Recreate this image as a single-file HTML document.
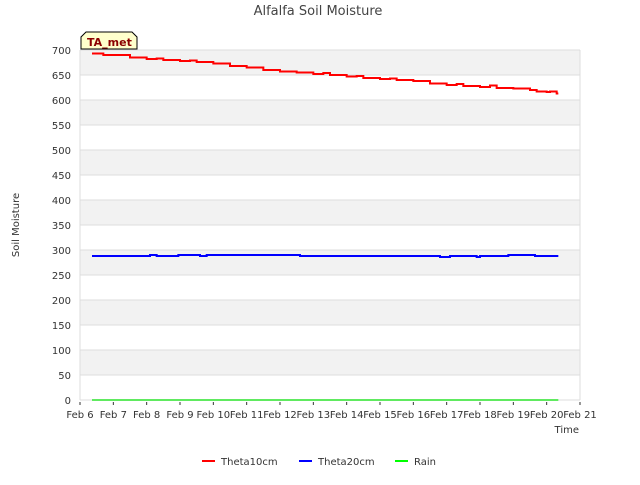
<!DOCTYPE html>
<html><head><meta charset="utf-8"><style>
body{margin:0;background:#fff;font-family:"Liberation Sans","DejaVu Sans",sans-serif}
svg text{font-family:"DejaVu Sans","Liberation Sans",sans-serif}
</style></head><body>
<svg id="c" width="640" height="480" xmlns="http://www.w3.org/2000/svg">
<text x="318" y="15" text-anchor="middle" font-size="13" fill="#444">Alfalfa Soil Moisture</text>
<g id="grid"></g>
<g id="axes"></g>
<g id="series"></g>
<text x="19" y="225" transform="rotate(-90 19 225)" text-anchor="middle" font-size="10" fill="#333">Soil Moisture</text>
<text x="579" y="433" text-anchor="end" font-size="10" fill="#333">Time</text>
<g>
<path d="M81,49 L81,37 L86,32 L132,32 L137,37 L137,49 Z" fill="#ffffcc" stroke="#000" stroke-width="1"/>
<text x="87" y="46" font-size="11" font-weight="bold" fill="#8b0000">TA_met</text>
</g>
<g>
<g><line x1="202" y1="461" x2="215" y2="461" stroke="#f00" stroke-width="2"/><text x="221" y="465" font-size="10" fill="#333">Theta10cm</text></g>
<g><line x1="299" y1="461" x2="312" y2="461" stroke="#00f" stroke-width="2"/><text x="318" y="465" font-size="10" fill="#333">Theta20cm</text></g>
<g><line x1="395" y1="461" x2="408" y2="461" stroke="#0f0" stroke-width="2"/><text x="414" y="465" font-size="10" fill="#333">Rain</text></g>
</g>
</svg>
<script>
const xTickLabels=["Feb 6","Feb 7","Feb 8","Feb 9","Feb 10","Feb 11","Feb 12","Feb 13","Feb 14","Feb 15","Feb 16","Feb 17","Feb 18","Feb 19","Feb 20","Feb 21"];
const yTicks=[0,50,100,150,200,250,300,350,400,450,500,550,600,650,700];
const t10Days=[6.36,6.7,7.0,7.5,8.0,8.3,8.5,9.0,9.3,9.5,10.0,10.5,11.0,11.5,12.0,12.5,13.0,13.3,13.5,14.0,14.3,14.5,15.0,15.3,15.5,16.0,16.5,17.0,17.3,17.5,18.0,18.3,18.5,19.0,19.5,19.7,20.0,20.1,20.3];
const t10Vals=[693,690,690,685,682,683,680,678,679,676,673,668,665,660,657,655,652,654,650,647,648,644,642,643,640,638,633,630,632,628,626,629,624,623,620,617,616,617,613];
const t20Days=[6.36,8.1,8.3,8.95,9.6,9.8,12.6,16.8,17.1,17.9,18.0,18.85,19.65,20.35];
const t20Vals=[288,290,288,290,288,290,288,286,288,286,288,290,288,288];
const rainDays=[6.36,20.35];
const rainVals=[0,0];
const NS="http://www.w3.org/2000/svg";
const X0=80,X1=580,Y0=400,Y1=50;
const xs=d=>X0+(d-6)*(X1-X0)/15;
const ys=v=>Y0-v*(Y0-Y1)/700;
function mk(tag,attrs,parent){const e=document.createElementNS(NS,tag);for(const k in attrs)e.setAttribute(k,attrs[k]);parent.appendChild(e);return e;}
const grid=document.getElementById('grid'),axes=document.getElementById('axes'),ser=document.getElementById('series');
for(let i=0;i<yTicks.length-1;i++){
  const r=mk('rect',{x:X0,y:ys(yTicks[i+1]),width:X1-X0,height:ys(yTicks[i])-ys(yTicks[i+1]),fill:i%2?'#f2f2f2':'#ffffff'},grid);
  
  
}
yTicks.forEach(v=>{
  const l=mk('line',{x1:X0,x2:X1,y1:ys(v),y2:ys(v),stroke:'#dddddd','stroke-width':1},grid);
  
  
  const t=mk('text',{x:71,y:ys(v)+4,'text-anchor':'end','font-size':10,fill:'#333'},axes);
  t.textContent=v;
  
  
});
mk('line',{x1:X0,x2:X0,y1:Y1,y2:Y0,stroke:'#dddddd'},grid);
mk('line',{x1:X1,x2:X1,y1:Y1,y2:Y0,stroke:'#dddddd'},grid);
xTickLabels.forEach((s,i)=>{
  const x=xs(6+i);
  mk('line',{x1:x,x2:x,y1:Y0+2,y2:Y0+5,stroke:'#333'},axes);
  const t=mk('text',{x:x,y:Y0+18,'text-anchor':'middle','font-size':10,fill:'#333'},axes);
  t.textContent=s;
  
  
});
function step(days,vals,end){
  let d='';
  for(let i=0;i<days.length;i++){
    const x=xs(days[i]),y=ys(vals[i]);
    if(i===0)d+='M'+x+','+y;else d+=' H'+x+' V'+y;
  }
  d+=' H'+xs(end);
  return d;
}
const p1=mk('path',{d:step(rainDays,rainVals,20.35),fill:'none',stroke:'#00dd00','stroke-width':1.2},ser);


const p2=mk('path',{d:step(t20Days,t20Vals,20.35),fill:'none',stroke:'#0000ff','stroke-width':2},ser);


const p3=mk('path',{d:step(t10Days,t10Vals,20.35),fill:'none',stroke:'#ff0000','stroke-width':2},ser);


</script>
</body></html>
